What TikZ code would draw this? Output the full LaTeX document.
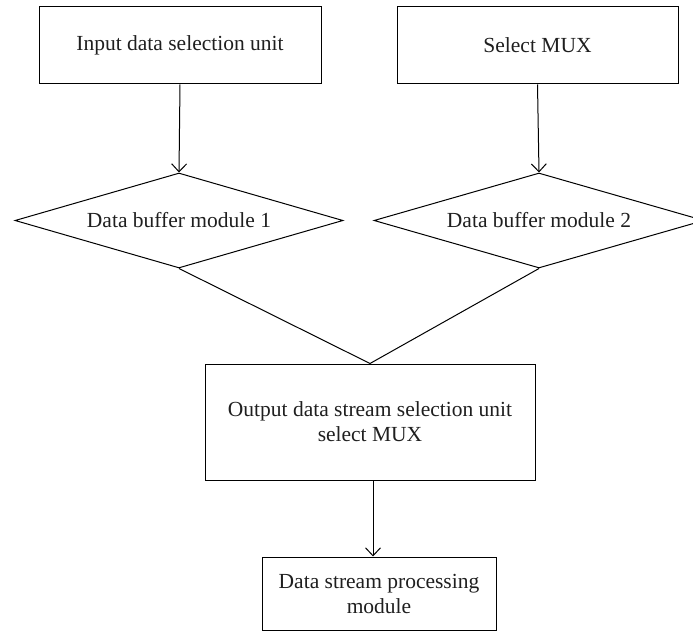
\documentclass[tikz,border=0pt]{standalone}
\usepackage{fontspec}
\setmainfont{Liberation Serif}
\usetikzlibrary{shapes.geometric,arrows.meta}
\begin{document}
\begin{tikzpicture}[x=1pt,y=-1pt,
  every node/.style={font=\fontsize{21.5}{25}\selectfont, text=black!88, align=center},
  block/.style={draw, rectangle, line width=1pt, inner sep=0pt},
  buffer/.style={draw, diamond, line width=1pt, inner sep=0pt, aspect=3.45},
  link/.style={line width=1pt},
  flow/.style={link, -{Straight Barb[length=8pt,width=15pt,line width=1pt]}}
]
\useasboundingbox (0,0) rectangle (693,631);
\clip (0,0) rectangle (693,631);

% top row of units
\node[block, minimum width=282pt, minimum height=77pt] (in) at (180,45.5) {Input data selection unit};
\node[block, minimum width=281pt, minimum height=77pt] (mux) at (537.5,45.5) {Select MUX};

% buffer modules
\node[buffer, minimum width=328pt, minimum height=95pt] (buf1) at (179,220.5) {Data buffer module 1};
\node[buffer, minimum width=330pt, minimum height=95pt] (buf2) at (539,220.5) {Data buffer module 2};

% output selection and processing
\node[block, minimum width=330pt, minimum height=116pt] (out) at (370,422) {Output data stream selection unit\\select MUX};
\node[block, minimum width=234pt, minimum height=73pt] (proc) at (379,593.5) {Data stream processing\\module};

% connectors
\draw[flow] (in.south) -- (buf1.north);
\draw[flow] (mux.south) -- (buf2.north);
\draw[link] (buf1.south) -- (out.north);
\draw[link] (buf2.south) -- (out.north);
\draw[flow] ([xshift=3pt]out.south) -- ([xshift=3pt]out.south |- proc.north);
\end{tikzpicture}
\end{document}
